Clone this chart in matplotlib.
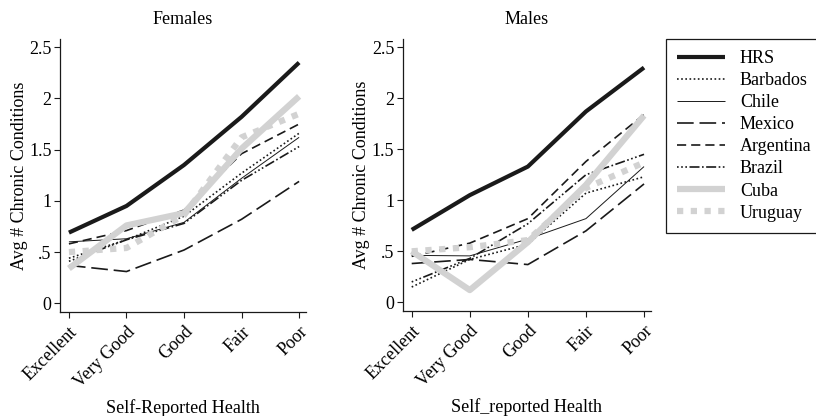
import matplotlib
matplotlib.use("Agg")
import matplotlib.pyplot as plt

plt.rcParams['font.family'] = ['Liberation Serif', 'DejaVu Serif']

categories = ["Excellent", "Very Good", "Good", "Fair", "Poor"]
series_names = ["HRS", "Barbados", "Chile", "Mexico", "Argentina", "Brazil", "Cuba", "Uruguay"]

females = {
    "HRS":       [0.69, 0.95, 1.35, 1.82, 2.35],
    "Barbados":  [0.44, 0.62, 0.85, 1.27, 1.66],
    "Chile":     [0.60, 0.63, 0.79, 1.22, 1.62],
    "Mexico":    [0.37, 0.31, 0.52, 0.82, 1.19],
    "Argentina": [0.58, 0.71, 0.91, 1.46, 1.75],
    "Brazil":    [0.41, 0.62, 0.78, 1.20, 1.53],
    "Cuba":      [0.34, 0.76, 0.88, 1.51, 2.02],
    "Uruguay":   [0.50, 0.54, 0.86, 1.62, 1.85],
}
males = {
    "HRS":       [0.71, 1.05, 1.33, 1.87, 2.30],
    "Barbados":  [0.15, 0.42, 0.57, 1.07, 1.23],
    "Chile":     [0.46, 0.455, 0.62, 0.82, 1.33],
    "Mexico":    [0.38, 0.42, 0.37, 0.70, 1.16],
    "Argentina": [0.45, 0.58, 0.82, 1.38, 1.84],
    "Brazil":    [0.20, 0.43, 0.77, 1.25, 1.45],
    "Cuba":      [0.50, 0.12, 0.59, 1.15, 1.83],
    "Uruguay":   [0.50, 0.54, 0.61, 1.12, 1.37],
}
yticks = [0, 0.5, 1, 1.5, 2, 2.5]
ytick_labels = ["0", ".5", "1", "1.5", "2", "2.5"]

BLK = "#1a1a1a"
GRY = "#d2d2d2"
styles = {
    "HRS":       dict(color=BLK, lw=3.0, ls="-"),
    "Barbados":  dict(color=BLK, lw=1.2, ls=(0, (1, 1.5))),
    "Chile":     dict(color=BLK, lw=0.7, ls="-"),
    "Mexico":    dict(color=BLK, lw=1.2, ls=(0, (10, 3.5))),
    "Argentina": dict(color=BLK, lw=1.2, ls=(0, (5.5, 3))),
    "Brazil":    dict(color=BLK, lw=1.2, ls=(0, (1, 1.5, 1, 1.5, 1, 1.5, 6, 1.5, 1, 1.5, 6, 1.5))),
    "Cuba":      dict(color=GRY, lw=4.5, ls="-"),
    "Uruguay":   dict(color=GRY, lw=4.5, ls=(0, (1, 1.2))),
}

fig = plt.figure(figsize=(8.16, 4.16), dpi=100)
ax1 = fig.add_axes([60/816, 1-312/416, 246/816, 273/416])
ax2 = fig.add_axes([402.7/816, 1-311/416, 248.3/816, 272/416])

x = list(range(len(categories)))
handles = []
for ax, data, title, xl in [(ax1, females, "Females", "Self-Reported Health"),
                            (ax2, males, "Males", "Self_reported Health")]:
    for name in series_names:
        st = styles[name]
        h, = ax.plot(x, data[name], color=st["color"], lw=st["lw"], ls=st["ls"],
                     solid_capstyle="butt", dash_capstyle="butt", label=name)
        if ax is ax1:
            handles.append(h)
    ax.set_xlim(-0.155, 4.12)
    ax.set_ylim(-0.085, 2.58)
    ax.set_xticks(x)
    ax.set_xticklabels(categories, rotation=45, ha="right", rotation_mode="anchor", fontsize=13)
    ax.set_yticks(yticks)
    ax.set_yticklabels(ytick_labels, fontsize=13)
    ax.tick_params(direction="out", length=4, width=0.8, color=BLK, pad=2)
    ax.tick_params(axis="x", pad=4)
    for s in ["top", "right"]:
        ax.spines[s].set_visible(False)
    for s in ["left", "bottom"]:
        ax.spines[s].set_linewidth(0.9)
        ax.spines[s].set_color(BLK)
    ax.set_title(title, fontsize=13, pad=11)
    ax.set_xlabel(xl, fontsize=13, labelpad=6)
    ax.set_ylabel("Avg # Chronic Conditions", fontsize=13, labelpad=1)

leg = fig.legend(handles=handles, labels=series_names, loc="upper left",
                 bbox_to_anchor=(666/816, 1-39/416), fontsize=13,
                 frameon=True, fancybox=False, framealpha=1, edgecolor=BLK,
                 handlelength=2.67, labelspacing=0.28, borderpad=0.62, handletextpad=0.8,
                 borderaxespad=0)
leg.get_frame().set_linewidth(0.9)

fig.savefig("out.png", dpi=100)
